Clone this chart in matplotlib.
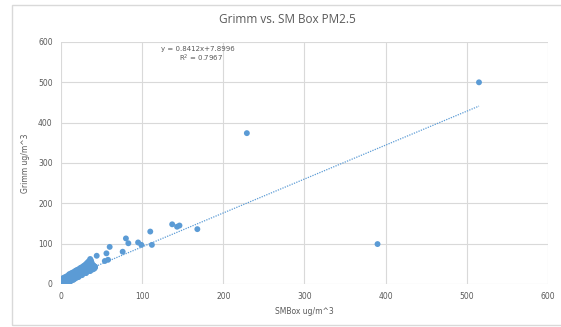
import matplotlib.pyplot as plt
from matplotlib.patches import Rectangle

# SMBox vs Grimm PM2.5 readings (ug/m^3)
smbox = [0, 1, 1, 2, 2, 3, 3, 4, 4, 5, 5, 6, 6, 7, 7, 8, 8, 9, 9, 10, 10,
         11, 12, 12, 13, 14, 14, 15, 16, 16, 17, 18, 18, 19, 20, 20, 21, 22,
         22, 23, 24, 24, 25, 26, 26, 27, 28, 28, 29, 30, 30, 31, 32, 32, 33,
         34, 34, 35, 35, 36, 37, 37, 38, 39, 40, 41, 42, 36, 33, 38, 40,
         3, 6, 8, 10, 12, 15, 18, 22,
         2, 4, 6, 8, 10, 12, 14, 16, 18, 20, 22, 24, 26, 28, 30, 32, 34, 36,
         3, 7, 11, 16, 21, 26, 31, 36, 39, 41, 42, 38, 36, 30, 25, 20, 15, 10, 5,
         44, 54, 56, 58, 60, 76, 80, 83, 95, 99, 110, 112,
         137, 143, 146, 168, 229, 390, 515]
grimm = [1, 3, 6, 2, 8, 4, 10, 3, 12, 5, 11, 6, 14, 7, 16, 8, 13, 9, 18, 9, 20,
         12, 11, 22, 14, 13, 24, 15, 16, 26, 18, 17, 28, 20, 19, 30, 22, 21,
         32, 24, 23, 34, 26, 25, 36, 28, 27, 38, 30, 29, 42, 33, 31, 46, 36,
         33, 50, 38, 55, 35, 40, 58, 37, 42, 40, 44, 41, 62, 52, 48, 46,
         0, 2, 3, 5, 7, 10, 14, 18,
         14, 16, 18, 20, 24, 26, 28, 30, 33, 35, 37, 40, 42, 45, 48, 52, 56, 58,
         1, 4, 8, 12, 17, 22, 27, 32, 36, 38, 43, 52, 45, 35, 30, 25, 20, 15, 9,
         70, 57, 76, 60, 92, 80, 113, 101, 103, 97, 130, 97,
         148, 142, 145, 136, 374, 99, 500]

slope = 0.8412
intercept = 7.8996
trend_x = [0, 515]
trend_y = [slope * x + intercept for x in trend_x]

blue = '#5b9bd5'
gray = '#595959'

fig = plt.figure(figsize=(5.61, 3.27), dpi=100)
ax = fig.add_axes([0.1087, 0.1315, 0.8681, 0.7401])

# Outer chart border
fig.patches.append(Rectangle((0.0214, 0.006), 1.0, 0.979, transform=fig.transFigure,
                             fill=False, edgecolor='#d9d9d9', linewidth=1))

ax.scatter(smbox, grimm, s=18, color=blue, edgecolors='none', zorder=3)
ax.plot(trend_x, trend_y, linestyle=(0, (1, 1)), color=blue, linewidth=0.9, zorder=2)

ax.set_xlim(0, 600)
ax.set_ylim(0, 600)
ax.set_xticks(range(0, 601, 100))
ax.set_yticks(range(0, 601, 100))
ax.grid(True, color='#d9d9d9', linewidth=0.8)
ax.set_axisbelow(True)
for spine in ax.spines.values():
    spine.set_visible(False)
ax.tick_params(axis='both', length=0, labelsize=5.5, labelcolor=gray, pad=6)

fig.text(0.513, 0.939, "Grimm vs. SM Box PM2.5", ha='center', va='center',
         fontsize=8.5, color=gray, family='Open Sans')
ax.set_xlabel("SMBox ug/m^3", fontsize=5.5, color=gray, labelpad=4)
ax.set_ylabel("Grimm ug/m^3", fontsize=5.5, color=gray, labelpad=6)

ax.text(0.281, 0.971, "y = 0.8412x+7.8996", transform=ax.transAxes,
        ha='center', va='center', fontsize=5, color=gray)
ax.text(0.287, 0.934, "R$^2$ = 0.7967", transform=ax.transAxes,
        ha='center', va='center', fontsize=5, color=gray)

fig.savefig("out.png", dpi=100)
